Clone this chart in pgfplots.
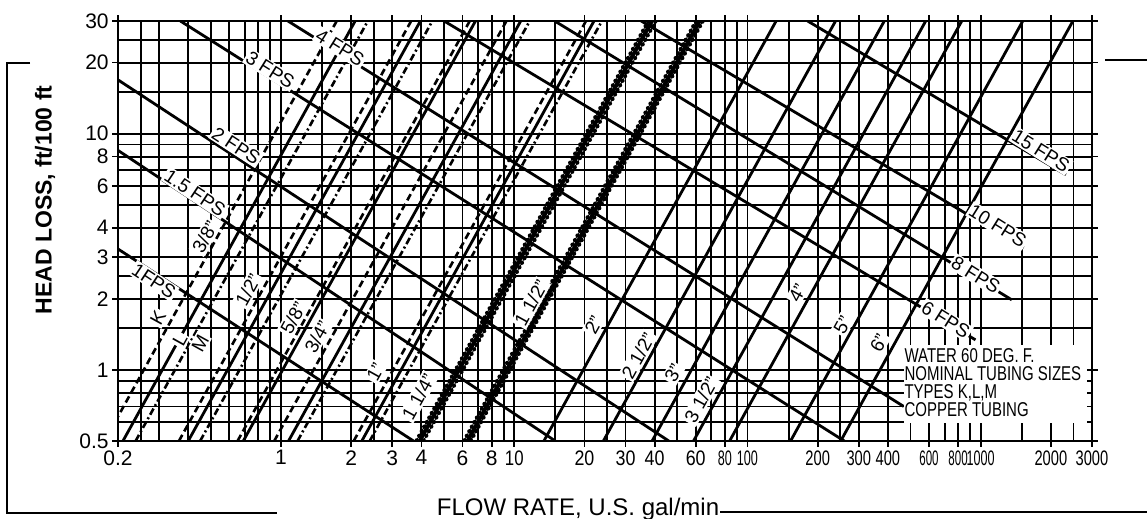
\documentclass[border=0pt]{standalone}
\usepackage{fontspec}
\setmainfont{Liberation Sans}
\usepackage{graphicx}
\usepackage{pgfplots}
\pgfplotsset{compat=1.18}

\newcommand{\cz}[2]{\scalebox{#1}[1]{#2}}
\tikzset{
  K/.style={black, line width=1.3pt, dash pattern=on 3.5pt off 2pt},
  L/.style={black, line width=1.4pt},
  M/.style={black, line width=1.3pt, dash pattern=on 3.5pt off 1.5pt on 1pt off 1.5pt},
  B/.style={black, line width=1.9pt, line cap=round, dash pattern=on 0.8pt off 1.8pt},
  BL/.style={black, line width=2pt},
  V/.style={black, line width=1.4pt},
  vlab/.style={fill=white, inner sep=0.8pt, font=\fontsize{9.5}{9.5}\selectfont, rotate=-32},
  plab/.style={fill=white, inner sep=0.8pt, font=\fontsize{9.5}{9.5}\selectfont, rotate=61},
}

\begin{document}
\begin{tikzpicture}
\useasboundingbox (0,0) rectangle (573.5pt,259.5pt);
\begin{axis}[
  at={(59pt,39pt)}, anchor=south west,
  width=487pt, height=210pt, scale only axis,
  xmode=log, ymode=log,
  xmin=0.2, xmax=3000, ymin=0.5, ymax=30,
  xtick={0.2,1,2,3,4,6,8,10,20,30,40,60,80,100,200,300,400,600,800,1000,2000,3000},
  xticklabels={0.2,1,2,3,4,6,8,\cz{.8}{10},\cz{.85}{20},\cz{.85}{30},\cz{.85}{40},\cz{.85}{60},\cz{.6}{80},\cz{.6}{100},\cz{.7}{200},\cz{.7}{300},\cz{.7}{400},\cz{.55}{600},\cz{.55}{800},\cz{.6}{1000},\cz{.7}{2000},\cz{.7}{3000}},
  minor xtick={0.25,0.3,0.4,0.5,0.6,0.7,0.8,0.9,1.5,2.5,5,7,9,15,25,50,70,90,150,250,500,700,900,1500,2500},
  ytick={0.5,1,2,3,4,6,8,10,20,30},
  yticklabels={0.5,1,2,3,4,6,8,10,20,30},
  minor ytick={0.6,0.7,0.8,0.9,1.5,2.5,5,7,9,15,25},
  grid=both,
  major grid style={black, line width=0.95pt},
  minor grid style={black, line width=0.95pt},
  axis line style={black, line width=1.4pt},
  tick align=outside, major tick length=3pt, minor tick length=0pt,
  tick style={black, line width=0.9pt},
  xticklabel style={font=\fontsize{10.5}{10.5}\selectfont, inner sep=1.5pt},
  yticklabel style={font=\fontsize{10.5}{10.5}\selectfont, inner sep=1.5pt},
]
% tubing, types K, L, M
\addplot[K] coordinates {(0.175,0.5) (1.733,30)};
\addplot[L] coordinates {(0.210,0.5) (2.079,30)};
\addplot[M] coordinates {(0.238,0.5) (2.356,30)};
\addplot[K] coordinates {(0.365,0.5) (3.614,30)};
\addplot[L] coordinates {(0.400,0.5) (3.960,30)};
\addplot[M] coordinates {(0.450,0.5) (4.455,30)};
\addplot[K] coordinates {(0.651,0.5) (6.445,30)};
\addplot[L] coordinates {(0.689,0.5) (6.821,30)};
\addplot[K] coordinates {(0.935,0.5) (9.257,30)};
\addplot[L] coordinates {(1.077,0.5) (10.66,30)};
\addplot[M] coordinates {(1.177,0.5) (11.65,30)};
\addplot[K] coordinates {(2.05,0.5) (20.30,30)};
\addplot[L] coordinates {(2.22,0.5) (21.98,30)};
\addplot[M] coordinates {(2.40,0.5) (23.76,30)};
\addplot[B] coordinates {(3.80,0.5) (37.6,30)};
\addplot[BL] coordinates {(3.93,0.5) (38.91,30)};
\addplot[B] coordinates {(4.08,0.5) (40.4,30)};
\addplot[B] coordinates {(6.08,0.5) (60.2,30)};
\addplot[BL] coordinates {(6.30,0.5) (62.37,30)};
\addplot[B] coordinates {(6.50,0.5) (64.4,30)};
\addplot[L] coordinates {(13.4,0.5) (132.7,30)};
\addplot[L] coordinates {(24.1,0.5) (238.6,30)};
\addplot[L] coordinates {(39.0,0.5) (386.1,30)};
\addplot[L] coordinates {(58.7,0.5) (581.1,30)};
\addplot[L] coordinates {(83.8,0.5) (829.6,30)};
\addplot[L] coordinates {(153,0.5) (1515,30)};
\addplot[L] coordinates {(251,0.5) (2485,30)};
% velocity lines
\addplot[V] coordinates {(0.2,3.25) (3.7,0.5)};
\addplot[V] coordinates {(0.2,8.5) (15,0.5)};
\addplot[V] coordinates {(0.2,16.9) (46,0.5)};
\addplot[V] coordinates {(0.37,30) (260,0.5)};
\addplot[V] coordinates {(1.07,30) (468,0.70)};
\addplot[V] coordinates {(5.0,30) (950,1.34)};
\addplot[V] coordinates {(14.9,30) (1359,1.98)};
\addplot[V] coordinates {(35,30) (1529,3.29)};
\addplot[V] coordinates {(181,30) (2318,6.70)};

\fill[white] (axis cs:468,1.277) rectangle (axis cs:2854,0.596);
\node[anchor=north west, inner sep=0pt, xscale=0.75, align=left, font=\fontsize{10}{9}\selectfont] at (axis cs:470,1.24) {WATER 60 DEG. F.\\NOMINAL TUBING SIZES\\TYPES K,L,M\\COPPER TUBING};

\node[vlab, rotate=-1.5] at (axis cs:0.285,2.38) {1FPS};
\node[vlab, rotate=-1.5] at (axis cs:0.428,5.61) {1.5 FPS};
\node[vlab, rotate=-1] at (axis cs:0.642,8.87) {2 FPS};
\node[vlab] at (axis cs:0.898,18.6) {3 FPS};
\node[vlab] at (axis cs:1.79,23.1) {4 FPS};
\node[vlab] at (axis cs:1811,8.45) {15 FPS};
\node[vlab] at (axis cs:1184,4.07) {10 FPS};
\node[vlab] at (axis cs:953,2.52) {8 FPS};
\node[vlab] at (axis cs:708,1.63) {6 FPS};

\node[plab] at (axis cs:0.297,1.66) {K};
\node[plab] at (axis cs:0.369,1.34) {L};
\node[plab] at (axis cs:0.450,1.30) {M};
\node[plab] at (axis cs:0.472,3.65) {3/8"};
\node[plab] at (axis cs:0.722,2.18) {1/2"};
\node[plab] at (axis cs:1.128,1.66) {5/8"};
\node[plab] at (axis cs:1.43,1.38) {3/4"};
\node[plab] at (axis cs:2.54,0.98) {1"};
\node[plab] at (axis cs:3.88,0.77) {1 1/4"};
\node[plab] at (axis cs:11.8,1.92) {1 1/2"};
\node[plab] at (axis cs:21.9,1.55) {2"};
\node[plab] at (axis cs:34,1.15) {2 1/2"};
\node[plab] at (axis cs:48.2,0.97) {3"};
\node[plab] at (axis cs:63.2,0.745) {3 1/2"};
\node[plab] at (axis cs:164,2.12) {4"};
\node[plab] at (axis cs:256,1.55) {5"};
\node[plab] at (axis cs:366,1.30) {6"};
\end{axis}

\draw[line width=1pt] (15pt,228pt) -- (3.5pt,228pt) -- (3.5pt,3pt) -- (138.5pt,3pt);
\draw[line width=1pt] (360pt,3.5pt) -- (573.5pt,3.5pt);
\draw[line width=1pt] (552.5pt,229.5pt) -- (573.5pt,229.5pt);
\node[anchor=base, font=\fontsize{12}{12}\selectfont] at (289pt,1.5pt) {FLOW RATE, U.S. gal/min};
\node[rotate=90, font=\bfseries\fontsize{11.5}{12}\selectfont] at (22.5pt,159.5pt) {HEAD LOSS, ft/100 ft};
\end{tikzpicture}
\end{document}
